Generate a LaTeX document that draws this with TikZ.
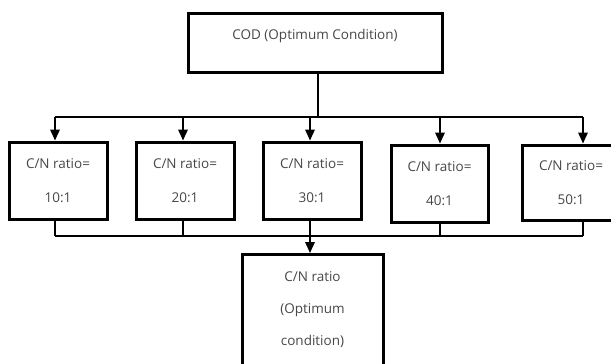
\documentclass[tikz,border=0pt]{standalone}
\usepackage{fontspec}
\setmainfont{Open Sans}
\usetikzlibrary{arrows.meta, positioning}
\tikzset{
  box/.style={draw, line width=3pt, fill=white, text=black!72, inner sep=0pt,
    font=\fontsize{13.5}{34}\selectfont, align=center},
  link/.style={draw, line width=1.7pt},
  arr/.style={link, -{Triangle[width=9.5pt,length=11pt]}}
}
\begin{document}
\begin{tikzpicture}[x=1pt, y=-1pt]
\useasboundingbox (0,0) rectangle (611,364);
\node[box, minimum width=254pt, text height=26pt, text depth=33pt] (cod) at (315,42.5) {COD (Optimum Condition)};
\node[box, minimum width=98pt, minimum height=77pt] (r10) at (58,180.5) {C/N ratio=\\10:1};
\node[box, minimum width=98pt, minimum height=77pt] (r20) at (185,180.5) {C/N ratio=\\20:1};
\node[box, minimum width=98pt, minimum height=77pt] (r30) at (312,180.5) {C/N ratio=\\30:1};
\node[box, minimum width=97pt, minimum height=77pt] (r40) at (439.5,183.5) {C/N ratio=\\40:1};
\node[box, minimum width=98pt, minimum height=75pt] (r50) at (571,182.5) {C/N ratio=\\50:1};
\node[box, anchor=north, minimum width=141pt, text height=90.5pt, text depth=36.5pt,
  font=\fontsize{13.5}{32}\selectfont] (opt) at (312.5,253) {C/N ratio\\(Optimum\\condition)};
\coordinate (split) at (318,117);
\coordinate (join) at (310,236);
% distribution from the COD box
\draw[link] (cod.south -| split) -- (split);
\draw[link] ([xshift=-3pt]r10.north |- split) -- ([xshift=12pt]r50.north |- split);
\foreach \b/\dx in {r10/-3, r20/-2, r30/-2, r40/0.5, r50/12} {
  \draw[arr] ([xshift=\dx pt]\b.north |- split) -- ([xshift=\dx pt]\b.north);
  \draw[link] ([xshift=\dx pt]\b.south) -- ([xshift=\dx pt]\b.south |- join);
}
% collection into the optimum box
\draw[link] ([xshift=-3pt]r10.south |- join) -- ([xshift=12pt]r50.south |- join);
\draw[arr] (join) -- (join |- opt.north);
\end{tikzpicture}
\end{document}
